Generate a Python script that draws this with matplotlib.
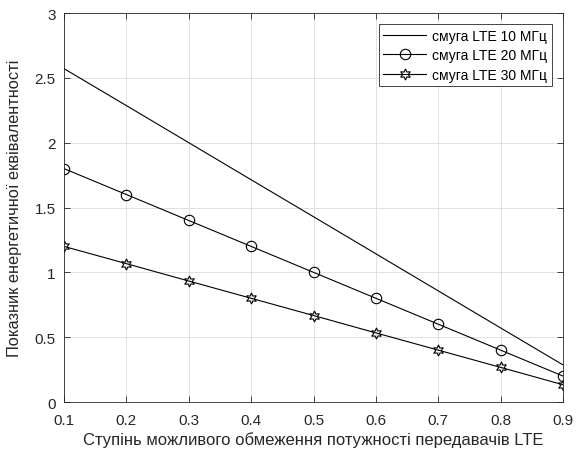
import matplotlib.pyplot as plt
from matplotlib.ticker import FixedLocator, FixedFormatter

plt.rcParams['font.family'] = ['Liberation Sans', 'DejaVu Sans']

# ступінь обмеження потужності
stupin = [0.1, 0.2, 0.3, 0.4, 0.5, 0.6, 0.7, 0.8, 0.9]
lte10 = [2.571, 2.286, 2.0, 1.714, 1.429, 1.143, 0.857, 0.571, 0.286]
lte20 = [1.8, 1.6, 1.4, 1.2, 1.0, 0.8, 0.6, 0.4, 0.2]
lte30 = [1.2, 1.067, 0.933, 0.8, 0.667, 0.533, 0.4, 0.267, 0.133]
xticks = [0.1, 0.2, 0.3, 0.4, 0.5, 0.6, 0.7, 0.8, 0.9]
xtick_labels = ['0.1', '0.2', '0.3', '0.4', '0.5', '0.6', '0.7', '0.8', '0.9']
yticks = [0, 0.5, 1, 1.5, 2, 2.5, 3]
ytick_labels = ['0', '0.5', '1', '1.5', '2', '2.5', '3']

fig = plt.figure(figsize=(5.84, 4.52), dpi=100)
ax = fig.add_axes([0.1096, 0.1084, 0.8545, 0.8606])

ax.plot(stupin, lte10, color='black', lw=0.8, label='смуга LTE 10 МГц')
ax.plot(stupin, lte20, color='black', lw=0.8, marker='o', markersize=7.5,
        markerfacecolor='none', markeredgewidth=0.8, label='смуга LTE 20 МГц')
ax.plot(stupin, lte30, color='black', lw=0.8, marker=(6, 1, 0), markersize=8,
        markerfacecolor='none', markeredgewidth=0.8, label='смуга LTE 30 МГц')

ax.set_xlim(0.1, 0.9)
ax.set_ylim(0, 3)
ax.xaxis.set_major_locator(FixedLocator(xticks))
ax.xaxis.set_major_formatter(FixedFormatter(xtick_labels))
ax.yaxis.set_major_locator(FixedLocator(yticks))
ax.yaxis.set_major_formatter(FixedFormatter(ytick_labels))
ax.tick_params(direction='in', length=4, width=0.6, labelsize=11,
               top=True, right=True, colors='#262626')
ax.tick_params(axis='x', pad=8)
ax.tick_params(axis='y', pad=6)
ax.grid(True, color='#dcdcdc', lw=0.6)
ax.set_axisbelow(True)
for s in ax.spines.values():
    s.set_linewidth(0.6)
    s.set_color('#262626')

ax.set_xlabel('Ступінь можливого обмеження потужності передавачів LTE',
              fontsize=12, color='#262626', labelpad=3)
ax.set_ylabel('Показник енергетичної еквівалентності', fontsize=11.8,
              color='#262626', labelpad=9)

leg = ax.legend(loc='upper right', fontsize=10, fancybox=False, framealpha=1,
                edgecolor='#262626', borderaxespad=0.8, handlelength=3.1,
                labelspacing=0.4, borderpad=0.32, handletextpad=0.45)
leg.get_frame().set_linewidth(0.6)

fig.savefig('out.png', dpi=100)
